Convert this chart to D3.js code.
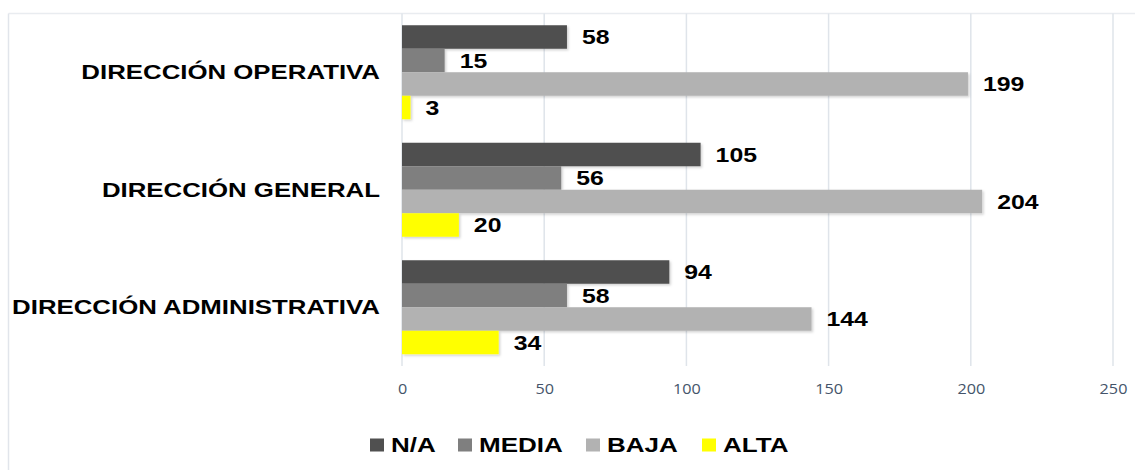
<!DOCTYPE html>
<html>
<head>
<meta charset="utf-8">
<script src="https://cdn.jsdelivr.net/npm/d3@7"></script>
<style>
  body { margin: 0; background: #fff; }
  svg { display: block; font-family: "Liberation Sans", Arial, sans-serif; }
</style>
</head>
<body>
<div id="chart"></div>
<script>
// data
var categories = ["DIRECCIÓN OPERATIVA", "DIRECCIÓN GENERAL", "DIRECCIÓN ADMINISTRATIVA"];
var seriesNames = ["N/A", "MEDIA", "BAJA", "ALTA"];
var naValues = [58, 105, 94];
var mediaValues = [15, 56, 58];
var bajaValues = [199, 204, 144];
var altaValues = [3, 20, 34];
var xTicks = [0, 50, 100, 150, 200, 250];

var colors = ["#505050", "#7f7f7f", "#b2b2b2", "#ffff00"];
var seriesValues = [naValues, mediaValues, bajaValues, altaValues];

var svgWidth = 1135, svgHeight = 470;
var svg = d3.select("#chart").append("svg")
    .attr("width", svgWidth)
    .attr("height", svgHeight);

// the picture is stretched sideways, so widen the text to match
function stretch(sel, k) {
    sel.each(function() {
        var w = this.getComputedTextLength();
        d3.select(this).attr("textLength", w * k).attr("lengthAdjust", "spacingAndGlyphs");
    });
}

// light frame (top and left only visible)
svg.append("line").attr("x1", 8.5).attr("x2", svgWidth).attr("y1", 13.5).attr("y2", 13.5)
    .attr("stroke", "#e9ecf0").attr("stroke-width", 1.5);
svg.append("line").attr("x1", 8.5).attr("x2", 8.5).attr("y1", 13.5).attr("y2", svgHeight)
    .attr("stroke", "#e1e5eb").attr("stroke-width", 1.5);

var defs = svg.append("defs");
var shadow = defs.append("filter").attr("id", "shadow")
    .attr("x", "-5%").attr("y", "-20%").attr("width", "115%").attr("height", "160%");
shadow.append("feDropShadow").attr("dx", 1.5).attr("dy", 1.5).attr("stdDeviation", 1)
    .attr("flood-color", "#000").attr("flood-opacity", 0.18);

var plotTop = 13.5, plotBottom = 366;
var xScale = d3.scaleLinear().domain([0, 250]).range([402, 1113]);
var yScale = d3.scaleBand().domain(categories).range([plotTop, plotBottom])
    .paddingInner(0.2).paddingOuter(0.1);
var subScale = d3.scaleBand().domain(seriesNames).range([0, yScale.bandwidth()]);

// gridlines
svg.append("g").selectAll("line")
    .data(xTicks)
    .enter()
    .append("line")
    .attr("x1", d => xScale(d)).attr("x2", d => xScale(d))
    .attr("y1", plotTop).attr("y2", plotBottom)
    .attr("stroke", "#dfe4ea").attr("stroke-width", 1.5);

// x axis labels
var xAxis = d3.axisBottom(xScale).tickValues(xTicks).tickSize(0).tickPadding(0);
var xAxisG = svg.append("g")
    .attr("transform", `translate(0, ${plotBottom + 17})`)
    .call(xAxis);
xAxisG.select(".domain").remove();
xAxisG.selectAll("text")
    .attr("fill", "#44546a")
    .attr("font-size", "15px")
    .attr("font-family", "'Open Sans', 'DejaVu Sans', sans-serif")
    .call(stretch, 1.08);

// category labels
svg.append("g").selectAll("text")
    .data(categories)
    .enter()
    .append("text")
    .attr("x", 380)
    .attr("y", d => yScale(d) + yScale.bandwidth() / 2)
    .attr("dy", "0.35em")
    .attr("text-anchor", "end")
    .attr("font-weight", "bold")
    .attr("font-size", "20px")
    .attr("fill", "#000")
    .text(d => d)
    .call(stretch, 1.29);

// bars
var rows = [];
categories.forEach(function(c, i) {
    seriesNames.forEach(function(s, j) {
        rows.push({ cat: c, series: s, value: seriesValues[j][i], color: colors[j] });
    });
});

svg.append("g").attr("filter", "url(#shadow)").selectAll("rect")
    .data(rows)
    .enter()
    .append("rect")
    .attr("x", xScale(0))
    .attr("y", d => yScale(d.cat) + subScale(d.series))
    .attr("width", d => xScale(d.value) - xScale(0))
    .attr("height", subScale.bandwidth())
    .attr("fill", d => d.color);

svg.append("g").selectAll("text")
    .data(rows)
    .enter()
    .append("text")
    .attr("x", d => xScale(d.value) + 15)
    .attr("y", d => yScale(d.cat) + subScale(d.series) + subScale.bandwidth() / 2)
    .attr("dy", "0.36em")
    .attr("font-weight", "bold")
    .attr("font-size", "20px")
    .attr("fill", "#000")
    .text(d => d.value)
    .call(stretch, 1.24);

// legend
var legendX = [370, 458, 586, 702];
var legend = svg.append("g").selectAll("g")
    .data(seriesNames)
    .enter()
    .append("g")
    .attr("transform", (d, i) => `translate(${legendX[i]}, 445)`);
legend.append("rect")
    .attr("x", 0).attr("y", -6.5)
    .attr("width", 14).attr("height", 13)
    .attr("fill", (d, i) => colors[i]);
legend.append("text")
    .attr("x", 21).attr("y", 0)
    .attr("dy", "0.36em")
    .attr("font-weight", "bold")
    .attr("font-size", "20px")
    .attr("fill", "#000")
    .text(d => d)
    .call(stretch, 1.3);
</script>
</body>
</html>
